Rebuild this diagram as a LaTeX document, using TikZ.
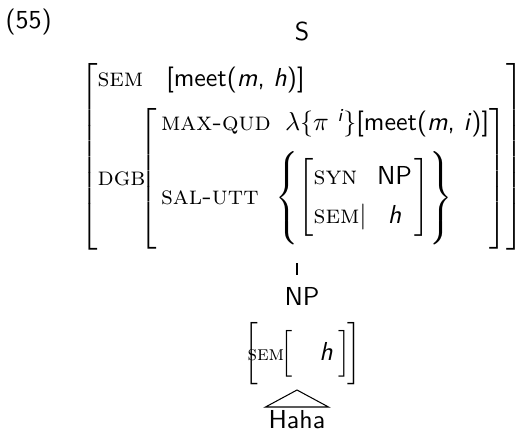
\documentclass[tikz,border=0pt]{standalone}
\usepackage{amsmath}
\renewcommand{\familydefault}{\sfdefault}

% feature names in small caps, values in sans
\newcommand{\feat}[1]{\text{\rmfamily\scshape #1}}
\newcommand{\sfeat}[1]{\text{\fontsize{8}{10}\selectfont\rmfamily\scshape #1}}
\newcommand{\val}[1]{\text{#1}}

\begin{document}
\begin{tikzpicture}[x=0.385pt,y=-0.385pt,
  avm/.style={inner sep=0pt},
  cat/.style={inner sep=0pt}]
\useasboundingbox (0,0) rectangle (518,430);
\delimiterfactor=1000 \delimitershortfall=0pt

\node[cat,anchor=base west] (exnum) at (5,28) {(55)};
\node[cat,anchor=base] (s) at (302,40) {S};

\node[avm] (top) at (302,157) {$\left[\begin{array}{@{}l@{\hspace{-2.2pt}}l@{}}
  \feat{sem} & \hspace{10.2pt}\val{[meet(\textit{m}, \textit{h})]}\\[5pt]
  \feat{dgb} & \left[\begin{array}{@{\hspace{1.5pt}}l@{\hspace{5.5pt}}l@{}}
    \feat{max-qud} & \lambda\{\pi\ {}^{\textit{i}}\}\val{[meet(\textit{m}, \textit{i})]}\\[4.2pt]
    \feat{sal-utt} & \hspace{-3.7pt}\left\{\left[\begin{array}{@{}l@{\hspace{4pt}}c@{\hspace{1pt}}}
      \feat{syn} & \val{NP}\\[3pt]
      \feat{sem}| & \textit{h}
    \end{array}\right]\right\}\rule[-17.3pt]{0pt}{0.1pt}
  \end{array}\right]
\end{array}\right]$};

\node[cat,anchor=base,outer sep=4.6pt] (np) at (302,305) {NP};
\node[avm] (npavm) at (302.5,354) {$\left[\hspace{-4pt}\sfeat{sem}\hspace{-3pt}\left[\hspace{10.2pt}\textit{h}\hspace{2.3pt}\rule[-5.2pt]{0pt}{15.4pt}\right]\hspace{-3.2pt}\rule[-9.5pt]{0pt}{24pt}\right]$};
\node[cat,inner sep=1pt,anchor=north] (haha) at (297,407) {Haha};

\coordinate (stem) at (297,263);
\coordinate (roof) at (297,390);
\draw (stem) -- (stem |- np.north);
\draw (haha.north west) -- (roof) -- (haha.north east) -- cycle;

\end{tikzpicture}
\end{document}
